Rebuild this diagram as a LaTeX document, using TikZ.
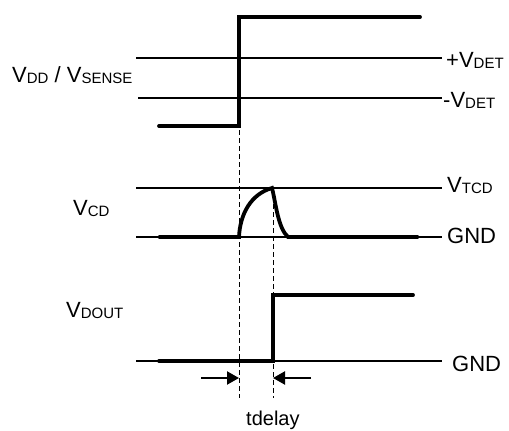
\documentclass[tikz,border=0pt]{standalone}
\usepackage{fontspec}
\setmainfont{Liberation Sans}
\usetikzlibrary{arrows.meta}
\newcommand{\mysub}[1]{{\fontsize{15}{15}\selectfont\raisebox{-1.5pt}{#1}}}
\tikzset{
  sig/.style={line width=3.8pt, line cap=round, line join=miter},
  ref/.style={line width=1.4pt},
  guide/.style={line width=0.9pt, dash pattern=on 5pt off 3pt},
  lbl/.style={inner sep=0pt, anchor=base west, font=\fontsize{22}{22}\selectfont},
  dimarrow/.style={line width=2.2pt, -{Triangle[length=12pt,width=13pt]}}
}
\begin{document}
\begin{tikzpicture}[x=1pt,y=-1pt]
\useasboundingbox (0,0) rectangle (509,431);
% reference lines
\draw[ref] (136,58) -- (442,58);
\draw[ref] (138,98) -- (442,98);
\draw[ref] (136,188) -- (442,188);
\draw[ref] (136,237) -- (442,237);
\draw[ref] (136,361) -- (442,361);
% guides
\coordinate (g1t) at (239,130);
\coordinate (g1b) at (239,398);
\coordinate (g2t) at (273,188);
\coordinate (g2b) at (273,398);
\draw[guide] (g1t) -- (g1b);
\draw[guide] (g2t) -- (g2b);
% VDD signal
\draw[sig] (159,126) -- (239,126) -- (239,17) -- (420,17);
% VCD signal
\draw[sig] (159,237) -- (239,237) .. controls (240,214) and (251,194) .. (272,188)
  .. controls (276,204) and (278,228) .. (288,237) -- (418,237);
% VDOUT signal
\draw[sig] (159,361) -- (273,361) -- (273,295) -- (413,295);
% arrows
\coordinate (a1s) at (201,378);
\coordinate (a1e) at (239,378);
\coordinate (a2s) at (311,378);
\coordinate (a2e) at (273,378);
\draw[dimarrow] (a1s) -- (a1e);
\draw[dimarrow] (a2s) -- (a2e);
% labels
\node[lbl] (vdd) at (12,82) {V\mysub{DD} / V\mysub{SENSE}};
\node[lbl] (pdet) at (446,67) {+V\mysub{DET}};
\node[lbl] (mdet) at (443,107) {-V\mysub{DET}};
\node[lbl] (vcd) at (73,215) {V\mysub{CD}};
\node[lbl] (vtcd) at (447,192) {V\mysub{TCD}};
\node[lbl] (gnd1) at (447,243) {GND};
\node[lbl] (vdout) at (66,317) {V\mysub{DOUT}};
\node[lbl] (gnd2) at (452,371) {GND};
\node[lbl, font=\fontsize{20}{20}\selectfont] (td) at (246,425) {tdelay};
\end{tikzpicture}
\end{document}
